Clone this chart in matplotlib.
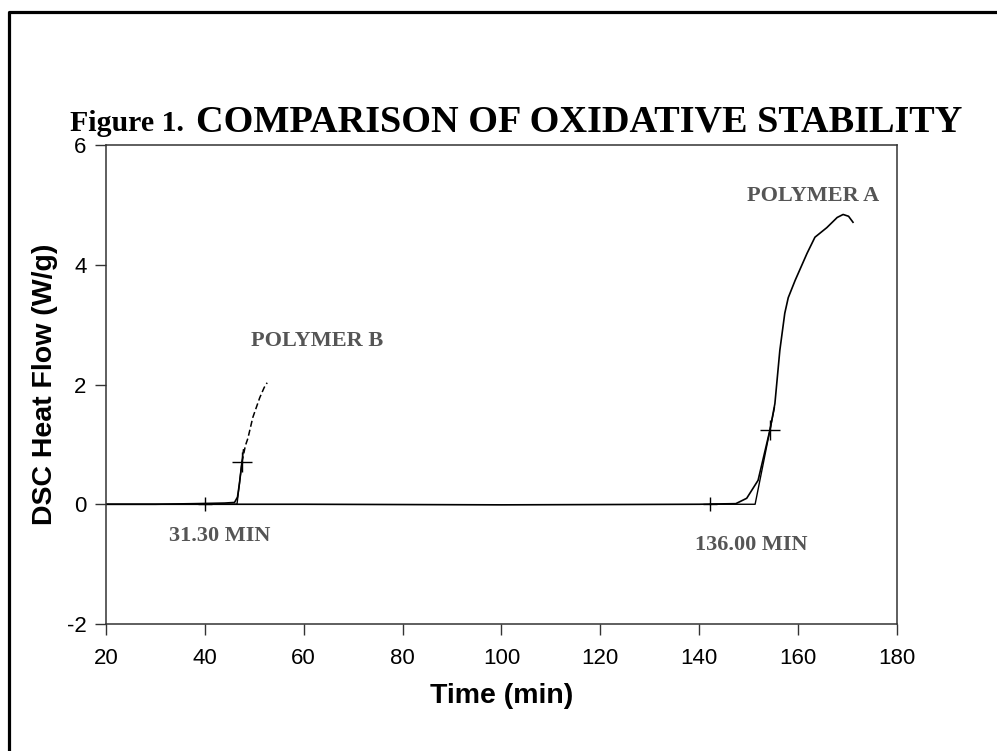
import matplotlib
matplotlib.use("Agg")
import matplotlib.pyplot as plt
from matplotlib.lines import Line2D

# DSC traces (time in min, heat flow in W/g)
b_time = [20, 30, 38, 44, 46.0, 46.6, 47.0, 47.5]
b_flow = [0.0, 0.0, 0.01, 0.02, 0.03, 0.12, 0.35, 0.70]
b_time_dash = [47.5, 48.2, 48.7, 49.7, 51.1, 52.0, 52.6]
b_flow_dash = [0.70, 0.98, 1.10, 1.45, 1.78, 1.95, 2.03]

a_time = [20, 60, 100, 140, 147.4, 149.6, 151.9, 154.3, 155.3, 156.3, 157.3,
          158.0, 159.4, 161.8, 163.4, 165.8, 167.9, 169.1, 170.2, 171.1]
a_flow = [0.0, 0.0, -0.01, 0.0, 0.01, 0.10, 0.40, 1.24, 1.68, 2.57, 3.19,
          3.45, 3.74, 4.19, 4.46, 4.62, 4.79, 4.84, 4.81, 4.71]

# extrapolated baseline + tangent lines
a_tan_time = [142.2, 151.3, 155.2]
a_tan_flow = [0.0, 0.0, 1.61]
b_tan_time = [40.0, 46.5, 47.8]
b_tan_flow = [0.0, 0.0, 0.91]

# onset marks and inflection marks
onset_time = [40.0, 142.2]
onset_flow = [0.0, 0.0]
infl_time = [47.5, 154.3]
infl_flow = [0.70, 1.24]

labels = ["POLYMER B", "POLYMER A", "31.30 MIN", "136.00 MIN"]
label_time = [62.7, 163.0, 42.9, 150.5]
label_flow = [2.73, 5.15, -0.53, -0.68]

xticks = [20, 40, 60, 80, 100, 120, 140, 160, 180]
yticks = [-2, 0, 2, 4, 6]

plt.rcParams['font.family'] = ['Liberation Sans', 'DejaVu Sans']
plt.rcParams['axes.unicode_minus'] = False

fig = plt.figure(figsize=(9.97, 7.51), dpi=100)
ax = fig.add_axes([0.1063, 0.1691, 0.7934, 0.6378])

ax.plot(a_time, a_flow, color='black', lw=1.2)
ax.plot(b_time, b_flow, color='black', lw=1.2)
ax.plot(b_time_dash, b_flow_dash, color='black', lw=1.1, ls=(0, (4, 2)))
ax.plot(a_tan_time, a_tan_flow, color='black', lw=1.0)
ax.plot(b_tan_time, b_tan_flow, color='black', lw=1.0)
ax.plot(onset_time, onset_flow, ls='none', marker='+', ms=10, mew=1.0,
        color='black')
ax.plot(infl_time, infl_flow, ls='none', marker='+', ms=14, mew=1.0,
        color='black')

for txt, t, v in zip(labels, label_time, label_flow):
    ax.text(t, v, txt, ha='center', va='center', color='#555555',
            fontsize=16, fontweight='bold', family='Liberation Serif')

ax.set_xlim(20, 180)
ax.set_ylim(-2, 6)
ax.set_xticks(xticks)
ax.set_yticks(yticks)
ax.tick_params(direction='out', length=8, width=1.0, color='#333333',
               labelsize=16)
ax.tick_params(axis='x', pad=9)
ax.tick_params(axis='y', pad=6)
for side in ['left', 'bottom', 'top', 'right']:
    ax.spines[side].set_color('#333333')
    ax.spines[side].set_linewidth(1.1)

ax.set_xlabel("Time (min)", fontsize=20.5, fontweight='bold', labelpad=10)
ax.set_ylabel("DSC Heat Flow (W/g)", fontsize=20.5, fontweight='bold',
              labelpad=6)

# title in two sizes, Times-like
fig.text(70 / 997, 1 - 131 / 751, "Figure 1.", ha='left', va='baseline',
         fontsize=21.5, fontweight='bold', family='Liberation Serif')
fig.text(196 / 997, 1 - 131 / 751, "COMPARISON OF OXIDATIVE STABILITY",
         ha='left', va='baseline', fontsize=27.5, fontweight='bold',
         family='Liberation Serif')

# outer frame (left and top edges only are inside the crop)
fig.add_artist(Line2D([9 / 997, 9 / 997, 1.0], [0.0, 1 - 12 / 751, 1 - 12 / 751],
                      transform=fig.transFigure, color='black', lw=2.3))

fig.savefig("out.png", dpi=100)
